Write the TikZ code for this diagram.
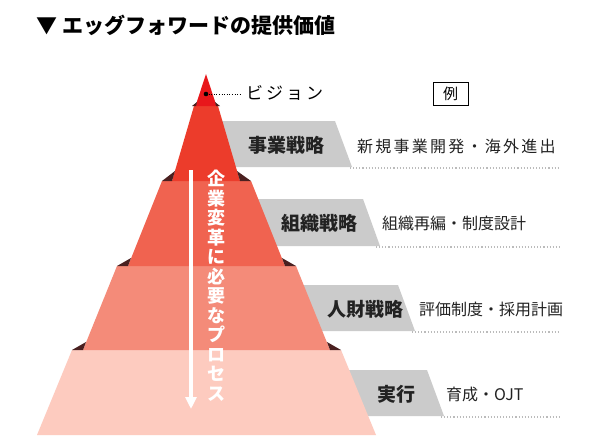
\documentclass[tikz,border=0pt]{standalone}
\usepackage{fontspec}
\setmainfont{Noto Sans CJK JP}
\usetikzlibrary{arrows.meta}
\definecolor{apexc}{HTML}{E8171B}
\definecolor{tierA}{HTML}{EC3C2B}
\definecolor{tierB}{HTML}{F06350}
\definecolor{tierC}{HTML}{F48B79}
\definecolor{tierD}{HTML}{FDCBBF}
\definecolor{shade}{HTML}{4A2020}
\definecolor{boxgray}{HTML}{CBCBCB}
\definecolor{dotgray}{HTML}{BBBBBB}
\definecolor{txt}{HTML}{222222}
\tikzset{
  x=1pt,y=-1pt,
  graybox/.style={fill=boxgray,draw=none},
  shoulder/.style={fill=shade,draw=none},
  guide/.style={draw=dotgray,line width=1.1pt,dotted},
  boxlabel/.style={font=\bfseries\fontsize{19}{22}\selectfont,text=txt,inner sep=0pt},
  desc/.style={font=\fontsize{16}{19}\selectfont,text=txt,inner sep=0pt,anchor=west},
}
\begin{document}
\begin{tikzpicture}
\useasboundingbox (0,0) rectangle (600,445);
\fill[white] (0,0) rectangle (600,445);

% title
\node[anchor=west,inner sep=0pt,font=\bfseries\fontsize{21}{24}\selectfont] (title) at (36,25) {▼ エッグフォワードの提供価値};

% gray label boxes (behind the pyramid)
\fill[graybox] (200,121) -- (335,121) -- (352,167) -- (217,167) -- cycle;
\fill[graybox] (230,199) -- (363,199) -- (380,246) -- (247,246) -- cycle;
\fill[graybox] (280,285) -- (398,285) -- (415,331) -- (297,331) -- cycle;
\fill[graybox] (320,370) -- (427,370) -- (444,416) -- (337,416) -- cycle;

% dotted guide lines
\coordinate (g1a) at (350,168); \coordinate (g1b) at (560,168);
\coordinate (g2a) at (376,247); \coordinate (g2b) at (560,247);
\coordinate (g3a) at (412,332); \coordinate (g3b) at (560,332);
\coordinate (g4a) at (441,417); \coordinate (g4b) at (560,417);
\draw[guide] (g1a) -- (g1b);
\draw[guide] (g2a) -- (g2b);
\draw[guide] (g3a) -- (g3b);
\draw[guide] (g4a) -- (g4b);

% pyramid tiers
\fill[tierD] (72,350) -- (341,350) -- (376,435) -- (37,435) -- cycle;
\fill[tierC] (117,266) -- (296,266) -- (330,350) -- (83,350) -- cycle;
\fill[tierB] (162,181) -- (251,181) -- (285,266) -- (128,266) -- cycle;
\fill[tierA] (194,106) -- (218,106) -- (240,181) -- (172,181) -- cycle;
\fill[apexc] (206,74) -- (216.5,106) -- (195.5,106) -- cycle;

% shoulders (shadows)
\fill[shoulder] (192,106) -- (196,106) -- (197,102) -- cycle;
\fill[shoulder] (220,106) -- (216,106) -- (215,102) -- cycle;
\fill[shoulder] (162,181) -- (172,181) -- (175,171) -- cycle;
\fill[shoulder] (251,181) -- (240,181) -- (237,171) -- cycle;
\fill[shoulder] (117,266) -- (128,266) -- (131,258) -- cycle;
\fill[shoulder] (296,266) -- (285,266) -- (282,258) -- cycle;
\fill[shoulder] (72,350) -- (83,350) -- (86,342) -- cycle;
\fill[shoulder] (341,350) -- (330,350) -- (327,342) -- cycle;

% vision marker
\node[circle,fill=black,inner sep=0pt,minimum size=4.6pt] (vdot) at (206,94) {};
\coordinate (vend) at (240,94);
\draw[black,line width=0.9pt,dash pattern=on 1pt off 1.6pt] (vdot) -- (vend);
\node[anchor=west,inner sep=0pt,font=\fontsize{17}{20}\selectfont] (vision) at (246,93) {ビ\kern3pt ジ\kern3pt ョ\kern3pt ン};

% example box
\node[draw=black,line width=0.9pt,minimum width=35pt,minimum height=23pt,inner sep=0pt,font=\fontsize{15}{18}\selectfont] (rei) at (450.5,93.5) {例};

% process arrow and vertical text
\coordinate (arrS) at (191,170);
\coordinate (arrE) at (191,409);
\draw[white,line width=3.5pt,-{Triangle[width=11pt,length=12pt]}] (arrS) -- (arrE);
\node[anchor=north,inner sep=0pt,align=center,text=white,font=\bfseries\fontsize{18}{19.5}\selectfont] (proc) at (216,170)
  {企\\業\\変\\革\\に\\必\\要\\な\\プ\\ロ\\セ\\ス};

% box labels
\node[boxlabel] (l1) at (286,145) {事業戦略};
\node[boxlabel] (l2) at (319,223) {組織戦略};
\node[boxlabel] (l3) at (365,309) {人財戦略};
\node[boxlabel] (l4) at (396,394) {実行};

% descriptions
\node[desc] (d1) at (357,146) {\addfontfeature{LetterSpace=14}新規事業開発・海外進出};
\node[desc] (d2) at (382,223) {組織再編・制度設計};
\node[desc] (d3) at (419,309) {評価制度・採用計画};
\node[desc] (d4) at (446,394) {育成・OJT};
\end{tikzpicture}
\end{document}
